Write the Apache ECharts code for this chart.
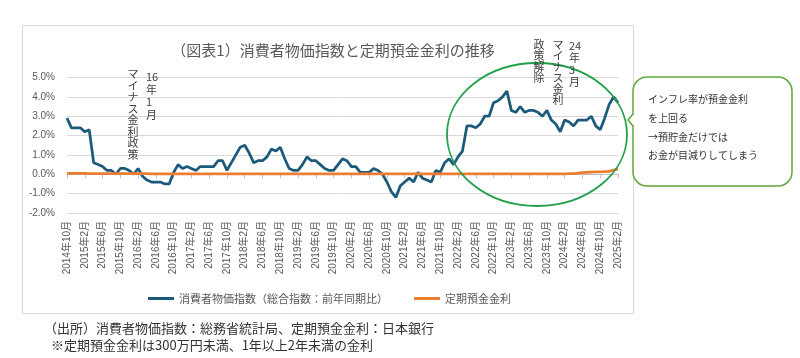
<!DOCTYPE html>
<html><head><meta charset="utf-8">
<script src="https://cdn.jsdelivr.net/npm/echarts@6/dist/echarts.min.js"></script>
<style>html,body{margin:0;padding:0;background:#fff;}#c{width:800px;height:358px;}</style>
</head><body><div id="c"></div>
<script>
// Monthly categories 2014年10月 .. 2025年2月
var startYear = 2014, startMonth = 10, monthCount = 125;
var categories = [];
for (var i = 0; i < monthCount; i++) {
  var m = startMonth - 1 + i;
  categories.push((startYear + Math.floor(m / 12)) + '年' + (m % 12 + 1) + '月');
}
// 消費者物価指数（総合指数：前年同期比） %
var cpi2014 = [2.9, 2.4, 2.4];
var cpi2015 = [2.4, 2.2, 2.3, 0.6, 0.5, 0.4, 0.2, 0.2, 0.0, 0.3, 0.3, 0.2];
var cpi2016 = [0.0, 0.3, -0.1, -0.3, -0.4, -0.4, -0.4, -0.5, -0.5, 0.1, 0.5, 0.3];
var cpi2017 = [0.4, 0.3, 0.2, 0.4, 0.4, 0.4, 0.4, 0.7, 0.7, 0.2, 0.6, 1.0];
var cpi2018 = [1.4, 1.5, 1.1, 0.6, 0.7, 0.7, 0.9, 1.3, 1.2, 1.4, 0.8, 0.3];
var cpi2019 = [0.2, 0.2, 0.5, 0.9, 0.7, 0.7, 0.5, 0.3, 0.2, 0.2, 0.5, 0.8];
var cpi2020 = [0.7, 0.4, 0.4, 0.1, 0.1, 0.1, 0.3, 0.2, 0.0, -0.4, -0.9, -1.2];
var cpi2021 = [-0.6, -0.4, -0.2, -0.4, 0.1, -0.2, -0.3, -0.4, 0.2, 0.1, 0.6, 0.8];
var cpi2022 = [0.5, 0.9, 1.2, 2.5, 2.5, 2.4, 2.6, 3.0, 3.0, 3.7, 3.8, 4.0];
var cpi2023 = [4.3, 3.3, 3.2, 3.5, 3.2, 3.3, 3.3, 3.2, 3.0, 3.3, 2.8, 2.6];
var cpi2024 = [2.2, 2.8, 2.7, 2.5, 2.8, 2.8, 2.8, 3.0, 2.5, 2.3, 2.9, 3.6];
var cpi2025 = [4.0, 3.7];
// 定期預金金利 %
var dep2014 = [0.05, 0.05, 0.05];
var dep2015 = [0.05, 0.05, 0.04, 0.04, 0.04, 0.04, 0.04, 0.04, 0.04, 0.04, 0.04, 0.04];
var dep2016 = [0.04, 0.03, 0.03, 0.03, 0.02, 0.02, 0.02, 0.02, 0.02, 0.02, 0.02, 0.02];
var dep2017 = [0.02, 0.02, 0.02, 0.02, 0.02, 0.02, 0.02, 0.02, 0.02, 0.02, 0.02, 0.02];
var dep2018 = [0.02, 0.02, 0.02, 0.02, 0.02, 0.02, 0.02, 0.02, 0.02, 0.02, 0.02, 0.02];
var dep2019 = [0.02, 0.02, 0.02, 0.02, 0.02, 0.02, 0.02, 0.02, 0.02, 0.02, 0.02, 0.02];
var dep2020 = [0.02, 0.02, 0.02, 0.02, 0.02, 0.02, 0.02, 0.02, 0.02, 0.02, 0.02, 0.02];
var dep2021 = [0.02, 0.02, 0.02, 0.02, 0.02, 0.02, 0.02, 0.02, 0.02, 0.02, 0.02, 0.02];
var dep2022 = [0.02, 0.02, 0.02, 0.02, 0.02, 0.02, 0.02, 0.02, 0.02, 0.02, 0.02, 0.02];
var dep2023 = [0.02, 0.02, 0.02, 0.02, 0.02, 0.02, 0.02, 0.02, 0.02, 0.02, 0.02, 0.02];
var dep2024 = [0.02, 0.02, 0.03, 0.04, 0.06, 0.08, 0.1, 0.11, 0.12, 0.13, 0.14, 0.15];
var dep2025 = [0.22, 0.27];
var yTickLabels = ['-2.0%', '-1.0%', '0.0%', '1.0%', '2.0%', '3.0%', '4.0%', '5.0%'];

var cpi = [].concat(cpi2014, cpi2015, cpi2016, cpi2017, cpi2018, cpi2019, cpi2020, cpi2021, cpi2022, cpi2023, cpi2024, cpi2025);
var dep = [].concat(dep2014, dep2015, dep2016, dep2017, dep2018, dep2019, dep2020, dep2021, dep2022, dep2023, dep2024, dep2025);

var FF = 'Liberation Sans, Noto Sans CJK JP, sans-serif';
var JF = 'Noto Sans CJK JP, sans-serif';
var BLUE = '#1c5a7c', ORANGE = '#ed7d31', GREEN = '#5ea83a';

function vtext(x, y, str, lh, size) {
  return { type: 'text', left: x, top: y, z: 50,
    style: { text: str, font: (size || 11) + 'px ' + JF, fill: '#404040', lineHeight: lh, align: 'center' } };
}

var chart = echarts.init(document.getElementById('c'), null, { renderer: 'canvas' });
chart.setOption({
  animation: false,
  backgroundColor: '#fff',
  title: { text: '（図表1）消費者物価指数と定期預金金利の推移', left: 328, top: 38, textAlign: 'center',
    textStyle: { fontFamily: JF, fontSize: 15, fontWeight: 'normal', color: '#595959' } },
  grid: { left: 67, right: 182, top: 77.5, bottom: 145 },
  legend: { left: 143, top: 288, itemGap: 26, itemWidth: 26, itemHeight: 3, icon: 'rect',
    textStyle: { fontFamily: JF, fontSize: 11, color: '#595959' },
    data: ['消費者物価指数（総合指数：前年同期比）', '定期預金金利'] },
  xAxis: [
    { type: 'category', data: categories, boundaryGap: false, position: 'bottom',
      axisLine: { show: false, onZero: false }, axisTick: { show: false },
      axisLabel: { interval: 3, rotate: 90, margin: 8, fontSize: 10, color: '#595959', fontFamily: FF, padding: [7, 0, 0, 0] } },
    { type: 'category', data: categories, boundaryGap: false, position: 'top',
      axisLine: { show: true, onZero: true, lineStyle: { color: '#bfbfbf', width: 1 } },
      axisTick: { show: true, interval: 3, inside: true, length: 4, lineStyle: { color: '#bfbfbf' } },
      axisLabel: { show: false }, splitLine: { show: false } }
  ],
  yAxis: { type: 'value', min: -2, max: 5, interval: 1,
    axisLine: { show: false }, axisTick: { show: false },
    splitLine: { lineStyle: { color: '#d9d9d9', width: 1 } },
    axisLabel: { margin: 12, fontSize: 10, color: '#595959', fontFamily: FF,
      formatter: function (v) { return yTickLabels[Math.round(v) + 2]; } } },
  series: [
    { name: '消費者物価指数（総合指数：前年同期比）', type: 'line', data: cpi, xAxisIndex: 0,
      symbol: 'none', lineStyle: { color: BLUE, width: 2.75 }, itemStyle: { color: BLUE }, z: 3 },
    { name: '定期預金金利', type: 'line', data: dep, xAxisIndex: 0,
      symbol: 'none', lineStyle: { color: ORANGE, width: 2.75 }, itemStyle: { color: ORANGE }, z: 4 }
  ],
  graphic: [
    { type: 'rect', shape: { x: 22.5, y: 25.5, width: 611, height: 288 }, z: -10,
      style: { fill: '#fff', stroke: '#d9d9d9', lineWidth: 1 } },
    { type: 'ellipse', shape: { cx: 537, cy: 134.5, rx: 90, ry: 71.5 }, z: 40,
      style: { fill: 'none', stroke: '#22a04a', lineWidth: 1.8 } },
    { type: 'rect', shape: { x: 633, y: 77, width: 159, height: 109, r: 14 }, z: 40,
      style: { fill: '#fff', stroke: GREEN, lineWidth: 1.5 } },
    { type: 'line', shape: { x1: 633, y1: 114.8, x2: 633, y2: 125.2 }, z: 41,
      style: { stroke: '#fff', lineWidth: 3 } },
    { type: 'polyline', shape: { points: [[633, 114], [628, 120], [633, 126]] }, z: 42,
      style: { fill: 'none', stroke: GREEN, lineWidth: 1.5 } },
    { type: 'text', left: 648, top: 90, z: 50,
      style: { text: 'インフレ率が預金金利\nを上回る\n→預貯金だけでは\nお金が目減りしてしまう', font: '10px ' + JF, fill: '#333', lineHeight: 18.7 } },
    vtext(127.5, 68.5, 'マ\nイ\nナ\nス\n金\n利\n政\n策', 11.5),
    vtext(146, 71, '16\n年\n1\n月', 12.4),
    vtext(533.5, 39, '政\n策\n解\n除', 11),
    vtext(552.5, 39, 'マ\nイ\nナ\nス\n金\n利', 11),
    vtext(569, 40, '24\n年\n3\n月', 12),
    { type: 'text', left: 44, top: 322, z: 50,
      style: { text: '（出所）消費者物価指数：総務省統計局、定期預金金利：日本銀行', font: '13px ' + JF, fill: '#333' } },
    { type: 'text', left: 51, top: 339, z: 50,
      style: { text: '※定期預金金利は300万円未満、1年以上2年未満の金利', font: '13px ' + JF, fill: '#333' } }
  ]
});
</script></body></html>
